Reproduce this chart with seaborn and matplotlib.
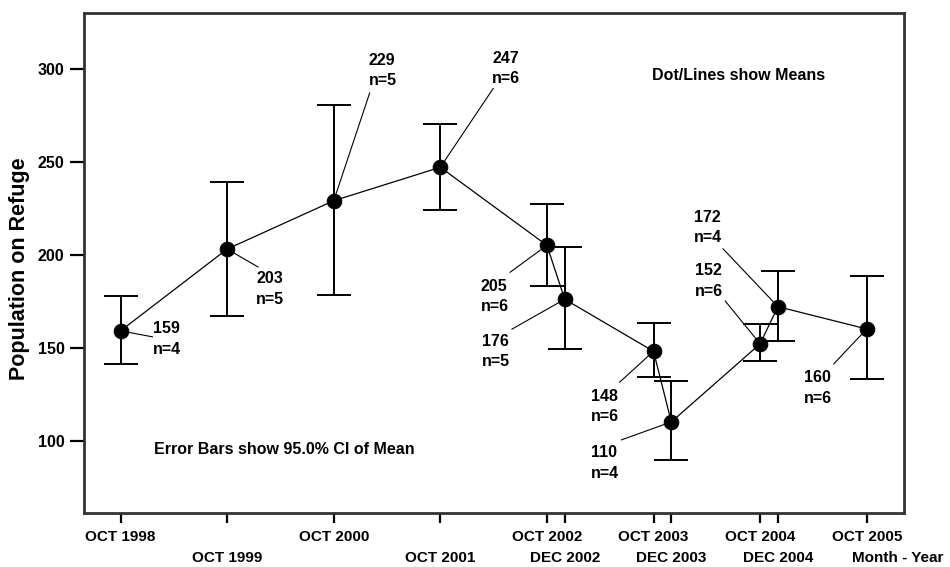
import matplotlib
matplotlib.use("Agg")
import matplotlib.pyplot as plt
import seaborn as sns
import numpy as np

# survey dates as decimal years (Oct = .75, Dec = .917)
dates = [1998.75, 1999.75, 2000.75, 2001.75, 2002.75, 2002.917,
         2003.75, 2003.917, 2004.75, 2004.917, 2005.75]
tick_labels = ["OCT 1998", "OCT 1999", "OCT 2000", "OCT 2001", "OCT 2002", "DEC 2002",
               "OCT 2003", "DEC 2003", "OCT 2004", "DEC 2004", "OCT 2005"]
means = [159, 203, 229, 247, 205, 176, 148, 110, 152, 172, 160]
ci_low = [141, 167, 178.5, 224, 183, 149.5, 134, 89.5, 143, 153.5, 133]
ci_high = [177.5, 239, 280.5, 270.5, 227, 204, 163, 132, 162.5, 191, 188.5]
n_obs = [4, 5, 5, 6, 6, 5, 6, 4, 6, 4, 6]

# label placement (pixel offsets from each point): text block, leader end
text_off = [(32, -8), (29, -40), (35, 130), (52, 99), (-66, -51), (-83, -52),
            (-63, -55), (-80, -41), (-65, 63), (-84, 79), (-63, -59)]
lead_off = [(32, -6), (31, -18), (36, 108), (53, 79), (-37, -27), (-53, -30),
            (-34, -31), (-50, -18), (-35, 43), (-55, 58), (-33, -35)]

sns.set_style("white")
plt.rcParams["font.family"] = ["Liberation Sans", "DejaVu Sans"]
plt.rcParams["font.weight"] = "bold"
for key in ["text.color", "axes.labelcolor", "xtick.color", "ytick.color"]:
    plt.rcParams[key] = "black"

fig = plt.figure(figsize=(9.5, 5.67), dpi=100)
ax = fig.add_axes([84 / 950, 1 - 513 / 567, 820 / 950, 500 / 567])

means_arr = np.array(means)
yerr = [means_arr - np.array(ci_low), np.array(ci_high) - means_arr]
ax.errorbar(dates, means, yerr=yerr, fmt="none", ecolor="black",
            elinewidth=1.4, capsize=12.5, capthick=1.4, zorder=2)
sns.lineplot(x=dates, y=means, ax=ax, color="black", linewidth=0.9,
             marker="o", markersize=10.5, markeredgecolor="black",
             sort=False, zorder=3)

for d, m, n, to, lo in zip(dates, means, n_obs, text_off, lead_off):
    ax.annotate("", xy=(d, m), xytext=lo, textcoords="offset pixels",
                arrowprops=dict(arrowstyle="-", color="black", lw=0.8,
                                shrinkA=0, shrinkB=0))
    ax.annotate(f"{m}\nn={n}", xy=(d, m), xytext=to, textcoords="offset pixels",
                ha="left", va="center", fontsize=11.5, fontweight="bold",
                linespacing=1.45)

ax.text(0.0857, 0.126, "Error Bars show 95.0% CI of Mean", transform=ax.transAxes,
        ha="left", va="center", fontsize=11.5, fontweight="bold")
ax.text(0.6927, 0.874, "Dot/Lines show Means", transform=ax.transAxes,
        ha="left", va="center", fontsize=11.5, fontweight="bold")

ax.set_xlim(1998.407, 2006.1)
ax.set_ylim(61, 330)
ax.set_yticks([100, 150, 200, 250, 300])
# two staggered label rows: first row on major ticks, second on minor ticks
ax.set_xticks(dates[0::2])
ax.set_xticklabels(tick_labels[0::2], fontsize=11, fontweight="bold")
ax.set_xticks(dates[1::2], minor=True)
ax.set_xticklabels(tick_labels[1::2], minor=True, fontsize=11, fontweight="bold")
plt.setp(ax.get_yticklabels(), fontsize=11.5, fontweight="bold")
ax.tick_params(axis="x", which="major", direction="out", length=7.5, width=1.6, pad=5, bottom=True)
ax.tick_params(axis="x", which="minor", direction="out", length=7.5, width=1.6, pad=20, bottom=True)
ax.tick_params(axis="y", direction="out", length=10, width=1.6, pad=4, left=True)

ax.set_ylabel("Population on Refuge", fontsize=15.5, fontweight="bold")
ax.yaxis.set_label_coords(-0.066, 0.489)
ax.set_xlabel("")
fig.text(898 / 950, 1 - 558 / 567, "Month - Year", ha="center", va="center",
         fontsize=11, fontweight="bold")

for side in ["left", "bottom", "top", "right"]:
    ax.spines[side].set_visible(True)
    ax.spines[side].set_color("#333333")
    ax.spines[side].set_linewidth(2)

fig.savefig("out.png", dpi=100)
